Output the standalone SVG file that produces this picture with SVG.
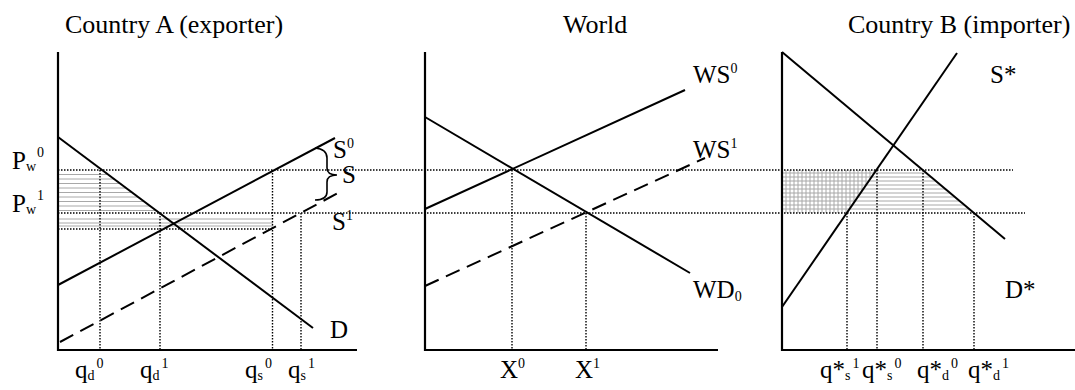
<svg xmlns="http://www.w3.org/2000/svg" width="1075" height="390" viewBox="0 0 1075 390">
<style>
text{font-family:"Liberation Serif","Times New Roman",serif;fill:#000}
.t{font-size:26px}
.l{font-size:25px}
.s{font-size:14px}
.ax{fill:none;stroke:#000;stroke-width:2.2}
.ln{stroke:#000;stroke-width:2}
.da{stroke:#000;stroke-width:2;stroke-dasharray:15 8}
.dt{stroke:#000;stroke-width:1.4;stroke-dasharray:1.5 1.5}
.h{stroke:#a8a8a8;stroke-width:1}
</style>
<defs>
<clipPath id="cA"><polygon points="58,170 102,170 160,213 58,213"/></clipPath>
<clipPath id="cBh"><polygon points="782,170 921,170 973,213 782,213"/></clipPath>
<clipPath id="cBv"><polygon points="782,170 876,170 847,213 782,213"/></clipPath>
</defs>
<rect width="1075" height="390" fill="#fff"/>

<g id="hatching">
<g clip-path="url(#cA)">
<path class="h" d="M58 174.5H200M58 179H200M58 183.5H200M58 188H200M58 192.5H200M58 197H200M58 201.5H200M58 206H200M58 210.5H200"/>
</g>
<path class="h" d="M58 219H273M58 223H273M58 226H273"/>
<g clip-path="url(#cBh)">
<path class="h" d="M782 173H980M782 177H980M782 181H980M782 185H980M782 189H980M782 193H980M782 197H980M782 201H980M782 205H980M782 209H980"/>
</g>
<g clip-path="url(#cBv)">
<path class="h" d="M786 170V213M790 170V213M794 170V213M798 170V213M802 170V213M806 170V213M810 170V213M814 170V213M818 170V213M822 170V213M826 170V213M830 170V213M834 170V213M838 170V213M842 170V213M846 170V213M850 170V213M854 170V213M858 170V213M862 170V213M866 170V213M870 170V213M874 170V213"/>
</g>
</g>

<g id="guides">
<line class="dt" x1="58" y1="170" x2="1013" y2="170"/>
<line class="dt" x1="58" y1="213" x2="1025" y2="213"/>
<line class="dt" x1="58" y1="229" x2="272" y2="229"/>
<line class="dt" x1="100" y1="170" x2="100" y2="350"/>
<line class="dt" x1="160" y1="213" x2="160" y2="350"/>
<line class="dt" x1="272.5" y1="170" x2="272.5" y2="350"/>
<line class="dt" x1="301" y1="213" x2="301" y2="350"/>
<line class="dt" x1="512" y1="170" x2="512" y2="350"/>
<line class="dt" x1="586" y1="213" x2="586" y2="350"/>
<line class="dt" x1="847" y1="213" x2="847" y2="350"/>
<line class="dt" x1="877" y1="170" x2="877" y2="350"/>
<line class="dt" x1="923" y1="170" x2="923" y2="350"/>
<line class="dt" x1="974" y1="213" x2="974" y2="350"/>
</g>

<g id="countryA">
<text class="t" x="65" y="33">Country A (exporter)</text>
<polyline class="ax" points="58,52 58,350 357,350"/>
<line class="ln" x1="58" y1="137" x2="313" y2="328"/>
<line class="ln" x1="58" y1="285" x2="335" y2="138"/>
<line class="da" x1="60" y1="342" x2="338" y2="193"/>
<path d="M315 148 Q327 149 327 158 V168 Q327 175 337 175 Q327 175 327 182 V192 Q327 200 315 200" fill="none" stroke="#000" stroke-width="1.6"/>
<text class="l" x="333" y="158">S<tspan class="s" dy="-10">0</tspan></text>
<text class="l" x="342" y="183">S</text>
<text class="l" x="332" y="230">S<tspan class="s" dy="-10">1</tspan></text>
<text class="l" x="330" y="338">D</text>
<text class="l" x="12" y="169">P<tspan class="s" dy="2">w</tspan><tspan class="s" dy="-14" dx="1">0</tspan></text>
<text class="l" x="12" y="212">P<tspan class="s" dy="2">w</tspan><tspan class="s" dy="-14" dx="1">1</tspan></text>
<text class="l" x="75" y="378">q<tspan class="s" dy="2">d</tspan><tspan class="s" dy="-12" dx="2">0</tspan></text>
<text class="l" x="140" y="378">q<tspan class="s" dy="2">d</tspan><tspan class="s" dy="-12" dx="2">1</tspan></text>
<text class="l" x="245" y="378">q<tspan class="s" dy="2">s</tspan><tspan class="s" dy="-12" dx="2">0</tspan></text>
<text class="l" x="288" y="378">q<tspan class="s" dy="2">s</tspan><tspan class="s" dy="-12" dx="2">1</tspan></text>
</g>

<g id="world">
<text class="t" x="563" y="33">World</text>
<polyline class="ax" points="425,52 425,350 718,350"/>
<line class="ln" x1="425" y1="209" x2="685" y2="90"/>
<line class="ln" x1="425" y1="117" x2="690" y2="273"/>
<line class="da" x1="425" y1="286" x2="705" y2="158"/>
<text class="l" x="693" y="83">WS<tspan class="s" dy="-10">0</tspan></text>
<text class="l" x="693" y="158">WS<tspan class="s" dy="-10">1</tspan></text>
<text class="l" x="693" y="298">WD<tspan class="s" dy="3">0</tspan></text>
<text class="l" x="500" y="378">X<tspan class="s" dy="-10">0</tspan></text>
<text class="l" x="575" y="378">X<tspan class="s" dy="-10">1</tspan></text>
</g>

<g id="countryB">
<text class="t" x="848" y="33">Country B (importer)</text>
<polyline class="ax" points="782,52 782,350 1075,350"/>
<line class="ln" x1="782" y1="52" x2="1005" y2="239"/>
<line class="ln" x1="782" y1="307" x2="957" y2="53"/>
<text class="l" x="990" y="83">S*</text>
<text class="l" x="1005" y="298">D*</text>
<text class="l" x="820" y="378">q*<tspan class="s" dy="2">s</tspan><tspan class="s" dy="-12" dx="2">1</tspan></text>
<text class="l" x="862" y="378">q*<tspan class="s" dy="2">s</tspan><tspan class="s" dy="-12" dx="2">0</tspan></text>
<text class="l" x="917" y="378">q*<tspan class="s" dy="2">d</tspan><tspan class="s" dy="-12" dx="2">0</tspan></text>
<text class="l" x="968" y="378">q*<tspan class="s" dy="2">d</tspan><tspan class="s" dy="-12" dx="2">1</tspan></text>
</g>
</svg>
